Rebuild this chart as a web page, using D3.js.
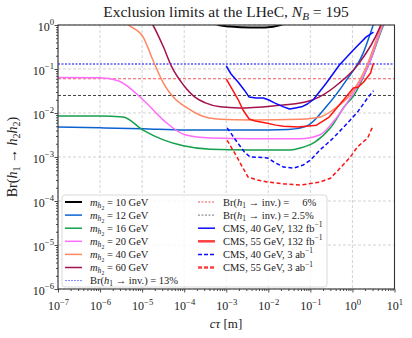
<!DOCTYPE html>
<html>
<head>
<meta charset="utf-8">
<script src="https://cdn.jsdelivr.net/npm/d3@7"></script>
<style>
body { margin: 0; background: #fff; }
svg text { font-family: "Liberation Serif", "DejaVu Serif", serif; fill: #222; }
</style>
</head>
<body>
<svg id="chart" width="412" height="338"></svg>
<script>
// curves: [c tau (m), Br(h1 -> h2 h2)]
var m10 = [[4e-4, 1.4], [6.5e-4, 1.0], [1.26e-3, 0.92], [3.7e-3, 0.88], [8.5e-3, 0.88], [1.95e-2, 1.0], [4e-2, 1.4]];
var m12 = [[1e-7, 4.8e-3], [1e-6, 4.6e-3], [1e-5, 4.4e-3], [1e-4, 4.1e-3], [1e-3, 4.1e-3], [1e-2, 4.1e-3],
           [3e-2, 4.2e-3], [8e-2, 5.0e-3], [0.24, 1.4e-2], [0.72, 5.6e-2], [1.8, 0.23], [3.0, 0.9], [3.4, 1.3]];
var m16 = [[1e-7, 8.5e-3], [1e-6, 8.5e-3], [3.5e-6, 8.1e-3], [1.05e-5, 4.1e-3], [3.2e-5, 2.45e-3], [9.5e-5, 1.8e-3],
           [4.2e-4, 1.5e-3], [3.7e-3, 1.45e-3], [3.3e-2, 1.45e-3], [5.8e-2, 1.6e-3], [0.13, 2.2e-3], [0.3, 4.6e-3],
           [0.68, 1.5e-2], [1.05, 2.4e-2], [2.4, 0.12], [5.5, 1.0], [6.5, 1.45]];
var m20 = [[1e-7, 6.4e-2], [1e-6, 6.3e-2], [2.7e-6, 5.4e-2], [1.05e-5, 2.0e-2], [3.2e-5, 6.9e-3], [1.05e-4, 3.2e-3],
           [4.2e-4, 2.7e-3], [3.7e-3, 2.6e-3], [5.8e-2, 2.6e-3], [0.17, 3.2e-3], [0.35, 6.3e-3], [0.89, 2.2e-2],
           [2.4, 0.12], [5.3, 1.0], [6.3, 1.45]];
var m40 = [[2.5e-6, 1.6], [4.7e-6, 1.0], [1.05e-5, 0.54], [1.8e-5, 0.16], [3.2e-5, 4.8e-2], [5.5e-5, 2.3e-2],
           [1.17e-4, 1.3e-2], [2.4e-4, 8.9e-3], [7.2e-4, 7.2e-3], [3.7e-3, 6.9e-3], [5.8e-2, 7.2e-3], [0.17, 8.1e-3],
           [0.44, 1.4e-2], [0.89, 2.6e-2], [2.2, 0.12], [5.0, 1.0], [6.0, 1.45]];
var m60 = [[1.3e-5, 1.6], [1.8e-5, 1.0], [3.2e-5, 0.32], [5.1e-5, 0.11], [9.5e-5, 4.4e-2], [1.8e-4, 2.3e-2],
           [3.2e-4, 1.7e-2], [7.2e-4, 1.38e-2], [2.0e-3, 1.3e-2], [1.3e-2, 1.45e-2], [8.0e-2, 1.8e-2], [0.16, 2.3e-2],
           [0.49, 4.8e-2], [1.48, 0.14], [4.4, 0.85], [5.0, 1.15]];
var cms40 = [[1e-3, 0.117], [1.3e-3, 7.7e-2], [1.93e-3, 5.0e-2], [2.7e-3, 3.3e-2], [3.5e-3, 2.3e-2], [5.1e-3, 2.2e-2],
             [7.6e-3, 2.2e-2], [1e-2, 2.0e-2], [1.4e-2, 1.7e-2], [2.3e-2, 1.38e-2], [3.2e-2, 1.23e-2], [4.4e-2, 1.3e-2],
             [6.2e-2, 1.38e-2], [8.5e-2, 1.6e-2], [0.117, 2.0e-2], [0.24, 4.8e-2], [0.49, 0.123], [1.05, 0.27],
             [2.1, 0.53], [3.16, 0.69]];
var cms55 = [[1e-3, 6.0e-2], [1.93e-3, 2.0e-2], [2.5e-3, 1.17e-2], [3.5e-3, 7.3e-3], [4.9e-3, 6.6e-3], [8.9e-3, 5.9e-3],
             [1.5e-2, 5.3e-3], [2.3e-2, 5.0e-3], [5.1e-2, 4.8e-3], [0.14, 5.3e-3], [0.28, 8.1e-3], [0.62, 2.0e-2],
             [1.05, 3.7e-2], [1.38, 3.9e-2], [1.83, 5.0e-2], [2.7, 8.1e-2], [3.16, 0.137]];
var cms40hl = [[1.05e-3, 4.6e-3], [1.8e-3, 2.2e-3], [2.7e-3, 1.3e-3], [3.7e-3, 1.0e-3], [5.8e-3, 9.9e-4], [9.5e-3, 9.5e-4],
               [1.5e-2, 7.3e-4], [2.3e-2, 5.9e-4], [4.0e-2, 5.6e-4], [6.8e-2, 6.6e-4], [0.1, 8.5e-4], [0.17, 1.45e-3],
               [0.35, 2.7e-3], [0.76, 5.9e-3], [1.32, 1.05e-2], [2.3, 2.2e-2], [3.16, 3.2e-2]];
var cms55hl = [[1.05e-3, 2.4e-3], [1.8e-3, 1.0e-3], [2.5e-3, 5.6e-4], [3.3e-3, 3.5e-4], [5.5e-3, 3.0e-4], [9.5e-3, 2.7e-4],
               [2.3e-2, 2.45e-4], [5.8e-2, 2.3e-4], [0.17, 2.7e-4], [0.3, 3.3e-4], [0.51, 5.6e-4], [0.89, 1.0e-3],
               [1.32, 1.7e-3], [2.3, 2.7e-3], [3.0, 4.8e-3]];

// Br(h1 -> inv.) limits
var invLimits = [0.13, 0.06, 0.025];

var xExps = [-7, -6, -5, -4, -3, -2, -1, 0, 1];
var yExps = [-6, -5, -4, -3, -2, -1, 0];

var W = 412, H = 338;
var L = 58, R = 394.5, T = 25, B = 289;

var svg = d3.select("#chart");
var x = d3.scaleLog().domain([1e-7, 10]).range([L, R]);
var y = d3.scaleLog().domain([1e-6, 1]).range([B, T]);

// rich text: parts are [text, pos, italic], pos = "", "sub", "sub2", "sup"
function rich(el, parts, size) {
    var off = 0;
    parts.forEach(function(p) {
        var pos = p[1] || "", target = 0, fs = size;
        if (pos == "sub") { target = size * 0.22; fs = size * 0.72; }
        else if (pos == "sub2") { target = size * 0.42; fs = size * 0.55; }
        else if (pos == "sup") { target = -size * 0.42; fs = size * 0.72; }
        el.append("tspan")
          .attr("dy", (target - off).toFixed(2))
          .attr("font-size", fs)
          .attr("font-style", p[2] ? "italic" : null)
          .text(p[0]);
        off = target;
    });
}

// grid
var grid = svg.append("g");
grid.selectAll("line.gx").data(xExps).enter().append("line")
    .attr("x1", function(d) { return x(Math.pow(10, d)); })
    .attr("x2", function(d) { return x(Math.pow(10, d)); })
    .attr("y1", T).attr("y2", B);
grid.selectAll("line.gy").data(yExps).enter().append("line")
    .attr("y1", function(d) { return y(Math.pow(10, d)); })
    .attr("y2", function(d) { return y(Math.pow(10, d)); })
    .attr("x1", L).attr("x2", R);
grid.selectAll("line").attr("stroke", "#c8c8c8").attr("stroke-width", 0.8).attr("stroke-dasharray", "3,2");

svg.append("clipPath").attr("id", "clip").append("rect")
    .attr("x", L).attr("y", T).attr("width", R - L).attr("height", B - T);
var plot = svg.append("g").attr("clip-path", "url(#clip)");

var hStyles = [
    { color: "#8080ff", width: 2, dash: "2,1.5" },
    { color: "#ee3030", width: 0.8, dash: "3,2" },
    { color: "#111", width: 0.8, dash: "3,2" }
];
invLimits.forEach(function(v, i) {
    plot.append("line")
        .attr("x1", L).attr("x2", R)
        .attr("y1", y(v)).attr("y2", y(v))
        .attr("stroke", hStyles[i].color)
        .attr("stroke-width", hStyles[i].width)
        .attr("stroke-dasharray", hStyles[i].dash);
});

var smooth = d3.line().x(function(d) { return x(d[0]); }).y(function(d) { return y(d[1]); }).curve(d3.curveMonotoneX);
var rough = d3.line().x(function(d) { return x(d[0]); }).y(function(d) { return y(d[1]); });

var series = [
    { data: m10, color: "#000", width: 2, line: smooth },
    { data: m12, color: "#0b62d0", width: 1.5, line: smooth },
    { data: m16, color: "#14a04c", width: 1.5, line: smooth },
    { data: m20, color: "#ff6cfa", width: 1.5, line: smooth },
    { data: m40, color: "#ff8862", width: 1.5, line: smooth },
    { data: m60, color: "#a3124c", width: 1.5, line: smooth },
    { data: cms40, color: "#0a0aff", width: 1.5, line: rough },
    { data: cms55, color: "#ff1414", width: 1.5, line: rough },
    { data: cms40hl, color: "#0a0aff", width: 1.5, line: rough, dash: "4,2.5" },
    { data: cms55hl, color: "#ff1414", width: 1.5, line: rough, dash: "4,2.5" }
];
series.forEach(function(s) {
    plot.append("path")
        .attr("d", s.line(s.data))
        .attr("fill", "none")
        .attr("stroke", s.color)
        .attr("stroke-width", s.width)
        .attr("stroke-dasharray", s.dash || null)
        .attr("stroke-linejoin", "round");
});

// axes
var minorX = [], minorY = [];
xExps.slice(0, -1).forEach(function(e) { for (var k = 2; k < 10; k++) minorX.push(k * Math.pow(10, e)); });
yExps.slice(0, -1).forEach(function(e) { for (var k = 2; k < 10; k++) minorY.push(k * Math.pow(10, e)); });

var xAxis = svg.append("g").attr("transform", "translate(0," + B + ")")
    .call(d3.axisBottom(x).tickValues(xExps.map(function(e) { return Math.pow(10, e); })).tickSize(3.5).tickSizeOuter(0).tickFormat(""));
var xMinor = svg.append("g").attr("transform", "translate(0," + B + ")")
    .call(d3.axisBottom(x).tickValues(minorX).tickSize(2).tickSizeOuter(0).tickFormat(""));
var yAxis = svg.append("g").attr("transform", "translate(" + L + ",0)")
    .call(d3.axisLeft(y).tickValues(yExps.map(function(e) { return Math.pow(10, e); })).tickSize(3.5).tickSizeOuter(0).tickFormat(""));
var yMinor = svg.append("g").attr("transform", "translate(" + L + ",0)")
    .call(d3.axisLeft(y).tickValues(minorY).tickSize(2).tickSizeOuter(0).tickFormat(""));
[xAxis, xMinor, yAxis, yMinor].forEach(function(a) {
    a.select(".domain").remove();
    a.selectAll(".tick line").attr("stroke", "#222").attr("stroke-width", 0.8);
});

xAxis.selectAll(".tick").each(function(d, i) {
    var t = d3.select(this).append("text").attr("y", 21).attr("text-anchor", "middle").attr("font-size", 12);
    rich(t, [["10"], [(xExps[i] < 0 ? "\u2212" : "") + Math.abs(xExps[i]), "sup"]], 12);
});
yAxis.selectAll(".tick").each(function(d, i) {
    var t = d3.select(this).append("text").attr("x", -4).attr("y", 5).attr("text-anchor", "end").attr("font-size", 12);
    rich(t, [["10"], [(yExps[i] < 0 ? "\u2212" : "") + Math.abs(yExps[i]), "sup"]], 12);
});

svg.append("rect").attr("x", L).attr("y", T).attr("width", R - L).attr("height", B - T)
    .attr("fill", "none").attr("stroke", "#333").attr("stroke-width", 1.1);

// labels
var title = svg.append("text").attr("x", 226).attr("y", 17).attr("text-anchor", "middle").attr("font-size", 15.5);
rich(title, [["Exclusion limits at the LHeC, "], ["N", "", true], ["B", "sub", true], [" = 195"]], 15.5);

var xl = svg.append("text").attr("x", 226).attr("y", 328).attr("text-anchor", "middle").attr("font-size", 13);
rich(xl, [["c\u03c4", "", true], [" [m]"]], 13);

var yl = svg.append("text").attr("transform", "translate(17," + ((T + B) / 2) + ") rotate(-90)")
    .attr("text-anchor", "middle").attr("font-size", 14);
rich(yl, [["Br("], ["h", "", true], ["1", "sub"], [" \u2192 "], ["h", "", true], ["2", "sub"], ["h", "", true], ["2", "sub"], [")"]], 14);

// legend
var legend = svg.append("g");
legend.append("rect").attr("x", 62).attr("y", 195).attr("width", 265).attr("height", 92).attr("rx", 3)
    .attr("fill", "#fff").attr("fill-opacity", 0.8).attr("stroke", "#d0d0d0").attr("stroke-width", 0.8);

function mLabel(v) { return [["m", "", true], ["h", "sub", true], ["2", "sub2"], [" = " + v + " GeV"]]; }
function invLabel(v) { return [["Br("], ["h", "", true], ["1", "sub"], [" \u2192 inv.) = " + v]]; }

var masses = ["10", "12", "16", "20", "40", "60"];
var col1 = masses.map(function(m, i) { return { s: series[i], label: mLabel(m) }; });
col1.push({ s: { color: hStyles[0].color, width: 1, dash: "2,1" }, label: invLabel(" 13%") });
var col2 = [
    { s: { color: hStyles[1].color, width: 0.8, dash: "2,1.5" }, label: invLabel("\u2007\u20076%") },
    { s: { color: "#555", width: 0.8, dash: "2,1.5" }, label: invLabel("2.5%") },
    { s: series[6], label: [["CMS, 40 GeV, 132 fb"], ["\u22121", "sup"]] },
    { s: { color: "#ff4040", width: 2.5 }, label: [["CMS, 55 GeV, 132 fb"], ["\u22121", "sup"]] },
    { s: { color: "#0a0aff", width: 1.5, dash: "4,2" }, label: [["CMS, 40 GeV, 3 ab"], ["\u22121", "sup"]] },
    { s: { color: "#ff4040", width: 2.5, dash: "4,2" }, label: [["CMS, 55 GeV, 3 ab"], ["\u22121", "sup"]] }
];

function drawCol(items, x0, x1, tx) {
    items.forEach(function(it, i) {
        var yy = 202 + i * 13.1;
        legend.append("line").attr("x1", x0).attr("x2", x1).attr("y1", yy).attr("y2", yy)
            .attr("stroke", it.s.color).attr("stroke-width", it.s.width)
            .attr("stroke-dasharray", it.s.dash || null);
        var t = legend.append("text").attr("x", tx).attr("y", yy + 3.5).attr("font-size", 10.5);
        rich(t, it.label, 10.5);
    });
}
drawCol(col1, 65, 82, 90);
drawCol(col2, 198, 215, 223);
</script>
</body>
</html>
